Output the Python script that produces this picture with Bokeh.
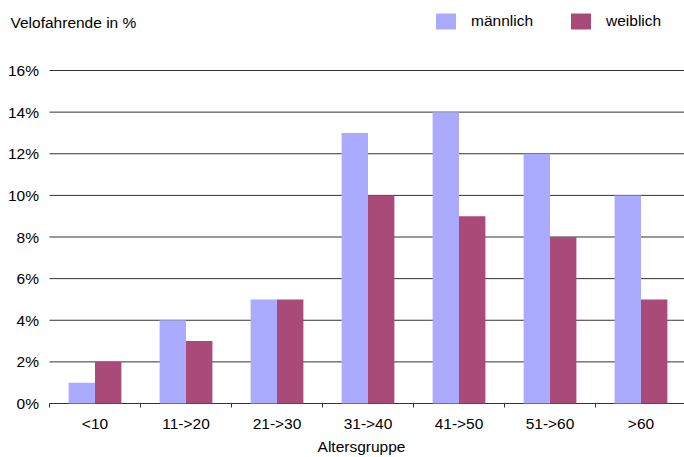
from bokeh.plotting import figure
from bokeh.models import Range1d, ColumnDataSource, Legend, LegendItem, Label
from bokeh.core.properties import value
from bokeh.transform import dodge
from bokeh.embed import file_html
from bokeh.resources import INLINE

categories = ["<10", "11->20", "21->30", "31->40", "41->50", "51->60", ">60"]
maennlich = [1, 4, 5, 13, 14, 12, 10]
weiblich = [2, 3, 5, 10, 9, 8, 5]
y_ticks = [0, 2, 4, 6, 8, 10, 12, 14, 16]
y_tick_labels = ["0%", "2%", "4%", "6%", "8%", "10%", "12%", "14%", "16%"]

FONT = "Liberation Sans"
FS = "15.5px"
MALE = "#aaaaff"
FEMALE = "#a94a78"
GRID = "#333333"

n = len(categories)
centers = [i + 0.5 for i in range(n)]
bounds = list(range(n + 1))
src = ColumnDataSource(dict(x=centers, m=maennlich, w=weiblich, lab=categories))
ysrc = ColumnDataSource(dict(y=y_ticks, lab=y_tick_labels))
tsrc = ColumnDataSource(dict(x=bounds))

# layout (pixels): frame covers the whole figure
W, H = 684, 457
X0_PX = 49.0         # page x where category 0 starts
Y0_PX = 403.0        # page y of 0 %
PX_X = 91.0          # pixels per category
PX_Y = 20.8125       # pixels per percent

p = figure(width=W, height=H,
           x_range=Range1d(-X0_PX / PX_X, (W - X0_PX) / PX_X),
           y_range=Range1d(-(H - Y0_PX) / PX_Y, Y0_PX / PX_Y),
           output_backend="svg", toolbar_location=None,
           x_axis_location=None, y_axis_location=None, min_border=0)
p.outline_line_color = None
p.background_fill_color = "white"
p.border_fill_color = "white"
p.xgrid.grid_line_color = None
p.ygrid.grid_line_color = None

def px_x(dx):
    return dx / PX_X

def px_y(dy):
    return dy / PX_Y

# horizontal grid lines (incl. baseline)
p.segment(x0=0, x1=n, y0="y", y1="y", source=ysrc, line_color=GRID, line_width=1)
# tick marks at category boundaries
p.segment(x0="x", x1="x", y0=0, y1=-px_y(4), source=tsrc, line_color=GRID, line_width=1)

# y tick labels
p.text(x=px_x(-10.5), y="y", text="lab", source=ysrc, text_align="right",
       text_baseline="middle", text_font=value(FONT), text_font_size=value(FS),
       text_color="black")

# category labels
p.text(x="x", y=px_y(-20), text="lab", source=src, text_align="center",
       text_baseline="middle", text_font=value(FONT), text_font_size=value(FS),
       text_color="black")

bw = 0.29
r_m = p.vbar(x=dodge("x", -bw / 2), top="m", width=bw, source=src,
             fill_color=MALE, line_color=None)
r_w = p.vbar(x=dodge("x", bw / 2), top="w", width=bw, source=src,
             fill_color=FEMALE, line_color=None)

legend = Legend(items=[LegendItem(label="männlich", renderers=[r_m]),
                       LegendItem(label="weiblich", renderers=[r_w])],
                orientation="horizontal", location=(433, H - 31),
                padding=0, margin=0, spacing=35, label_standoff=13,
                glyph_width=25, glyph_height=20,
                border_line_color=None, background_fill_alpha=0,
                label_text_font=FONT, label_text_font_size=FS,
                label_text_color="black")
p.add_layout(legend, "center")

p.add_layout(Label(x=px_x(10 - X0_PX), y=px_y(Y0_PX - 21.5), text="Velofahrende in %",
                   text_font=FONT, text_font_size=FS, text_color="black",
                   text_baseline="middle"))
p.add_layout(Label(x=px_x(361 - X0_PX), y=px_y(-43), text="Altersgruppe",
                   text_font=FONT, text_font_size=FS, text_color="black",
                   text_baseline="middle", text_align="center"))

open("out.html", "w").write(file_html(p, INLINE))
